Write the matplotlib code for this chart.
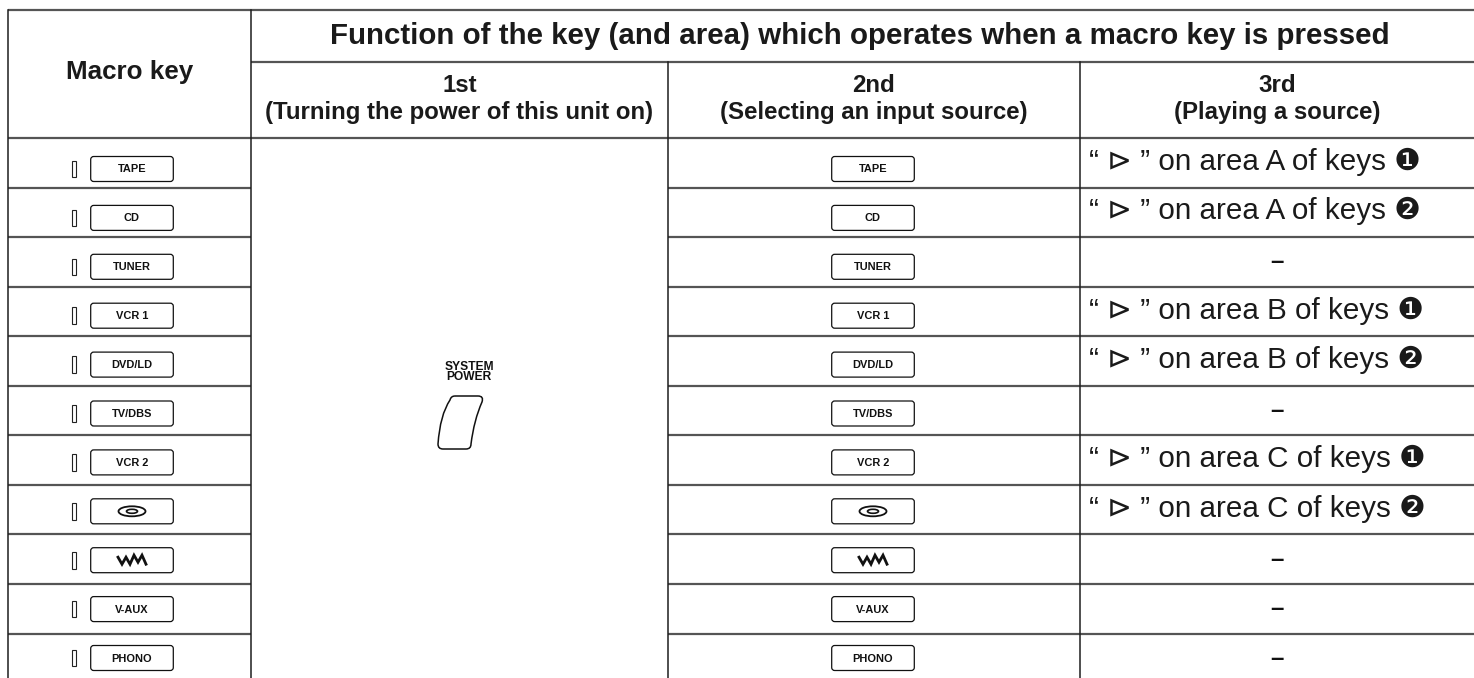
import matplotlib
matplotlib.use("Agg")
import matplotlib.pyplot as plt
from matplotlib.patches import FancyBboxPatch, Rectangle, Ellipse, PathPatch
from matplotlib.path import Path

# ---------------- data ----------------
header_macro = "Macro key"
header_function = "Function of the key (and area) which operates when a macro key is pressed"
step_titles = ["1st", "2nd", "3rd"]
step_subtitles = ["(Turning the power of this unit on)",
                  "(Selecting an input source)",
                  "(Playing a source)"]
macro_keys = ["TAPE", "CD", "TUNER", "VCR 1", "DVD/LD", "TV/DBS", "VCR 2",
              "@disc", "@wave", "V-AUX", "PHONO"]
first_step = ["SYSTEM\nPOWER"]
third_step = ["“ ⊳ ” on area A of keys ❶",
              "“ ⊳ ” on area A of keys ❷",
              "–",
              "“ ⊳ ” on area B of keys ❶",
              "“ ⊳ ” on area B of keys ❷",
              "–",
              "“ ⊳ ” on area C of keys ❶",
              "“ ⊳ ” on area C of keys ❷",
              "–",
              "–",
              "–"]

# ---------------- layout ----------------
W, H = 1474, 678
fig = plt.figure(figsize=(W / 100, H / 100), dpi=100)
ax = fig.add_axes([0, 0, 1, 1])
ax.set_xlim(0, W)
ax.set_ylim(H, 0)
ax.axis("off")

FONT = ["Liberation Sans", "DejaVu Sans"]
PX = 0.72  # px -> pt

x0, x1, x2, x3, x4 = 8, 251, 668, 1080, W
y_top, y_mid, y_head = 10, 62, 138
row_h = 49.55
n = len(macro_keys)
row_tops = [y_head + i * row_h for i in range(n)]
row_c = [t + row_h / 2 for t in row_tops]
key_c = [169 + 48.9 * i for i in range(n)]

hcol = "#555555"
vcol = "#1e1e1e"
hlw = 1.6
vlw = 1.1

# horizontal lines
ax.plot([x0, x4], [y_top, y_top], color=hcol, lw=hlw, solid_capstyle="butt")
ax.plot([x1, x4], [y_mid, y_mid], color=hcol, lw=hlw, solid_capstyle="butt")
ax.plot([x0, x4], [y_head, y_head], color=hcol, lw=hlw, solid_capstyle="butt")
for t in row_tops[1:]:
    ax.plot([x0, x1], [t, t], color=hcol, lw=hlw, solid_capstyle="butt")
    ax.plot([x2, x4], [t, t], color=hcol, lw=hlw, solid_capstyle="butt")

# vertical lines
ax.plot([x0, x0], [y_top, H], color=vcol, lw=vlw)
ax.plot([x1, x1], [y_top, H], color=vcol, lw=vlw)
ax.plot([x2, x2], [y_mid, H], color=vcol, lw=vlw)
ax.plot([x3, x3], [y_mid, H], color=vcol, lw=vlw)

# header text
ax.text((x0 + x1) / 2, 72, header_macro, ha="center", va="center",
        fontsize=26 * PX, fontweight="bold", family=FONT, color="#1a1a1a")
ax.text(860, 36, header_function, ha="center", va="center",
        fontsize=29.5 * PX, fontweight="bold", family=FONT, color="#1a1a1a")
for (a, b), t, s in zip([(x1, x2), (x2, x3), (x3, x4)], step_titles, step_subtitles):
    cx = (a + b) / 2
    ax.text(cx, 86, t, ha="center", va="center", fontsize=24 * PX,
            fontweight="bold", family=FONT, color="#1a1a1a")
    ax.text(cx, 112, s, ha="center", va="center", fontsize=24 * PX,
            fontweight="bold", family=FONT, color="#1a1a1a")


def draw_key(cx, cy, label):
    w, h = 82.6, 25
    box = FancyBboxPatch((cx - w / 2 + 3, cy - h / 2 + 3), w - 6, h - 6,
                         boxstyle="round,pad=3", fc="white", ec="#111111", lw=0.9)
    ax.add_patch(box)
    if label == "@disc":
        ax.add_patch(Ellipse((cx, cy), 27, 10, fc="none", ec="#111111", lw=1.3))
        ax.add_patch(Ellipse((cx, cy), 11, 4, fc="none", ec="#111111", lw=1.2))
    elif label == "@wave":
        xs = [-14, -10, -6, -2, 2, 6, 10, 14]
        ys = [3, -4, 3, -4, 5, -2, 5, -4]
        ax.plot([cx + v for v in xs], [cy - v for v in ys], color="#111111",
                lw=2.0, solid_joinstyle="miter")
    else:
        ax.text(cx, cy + 0.5, label, ha="center", va="center", fontsize=11 * PX,
                fontweight="bold", family=FONT, color="#111111")


for i, lab in enumerate(macro_keys):
    cy = key_c[i]
    # indicator
    ax.add_patch(Rectangle((72.3, cy - 8.3), 3.4, 16.6, fc="white", ec="#222222", lw=0.8))
    draw_key(132, cy, lab)
    draw_key(873, cy, lab)
    txt = third_step[i]
    if txt == "–":
        ax.text((x3 + x4) / 2, row_c[i], txt, ha="center", va="center",
                fontsize=24 * PX, fontweight="bold", family=FONT, color="#111111")
    else:
        ax.text(1089, row_c[i] - 1, txt, ha="left", va="center",
                fontsize=29.6 * PX, family=FONT, color="#1a1a1a")

# SYSTEM POWER key
ax.text(469, 372, first_step[0], ha="center", va="center", fontsize=12 * PX,
        fontweight="bold", family=FONT, color="#111111", linespacing=0.8)
verts = [(455, 396), (478, 396), (484, 396), (482, 402), (474, 420), (471, 444),
         (471, 449), (466, 449), (443, 449), (438, 449), (438, 444), (440, 415),
         (450, 400), (451, 396), (455, 396)]
codes = [Path.MOVETO, Path.LINETO, Path.CURVE3, Path.CURVE3, Path.CURVE3, Path.CURVE3,
         Path.CURVE3, Path.CURVE3, Path.LINETO, Path.CURVE3, Path.CURVE3, Path.CURVE3,
         Path.CURVE3, Path.CURVE3, Path.CURVE3]
ax.add_patch(PathPatch(Path(verts, codes), fc="white", ec="#111111", lw=1.1))

fig.savefig("out.png", dpi=100)
